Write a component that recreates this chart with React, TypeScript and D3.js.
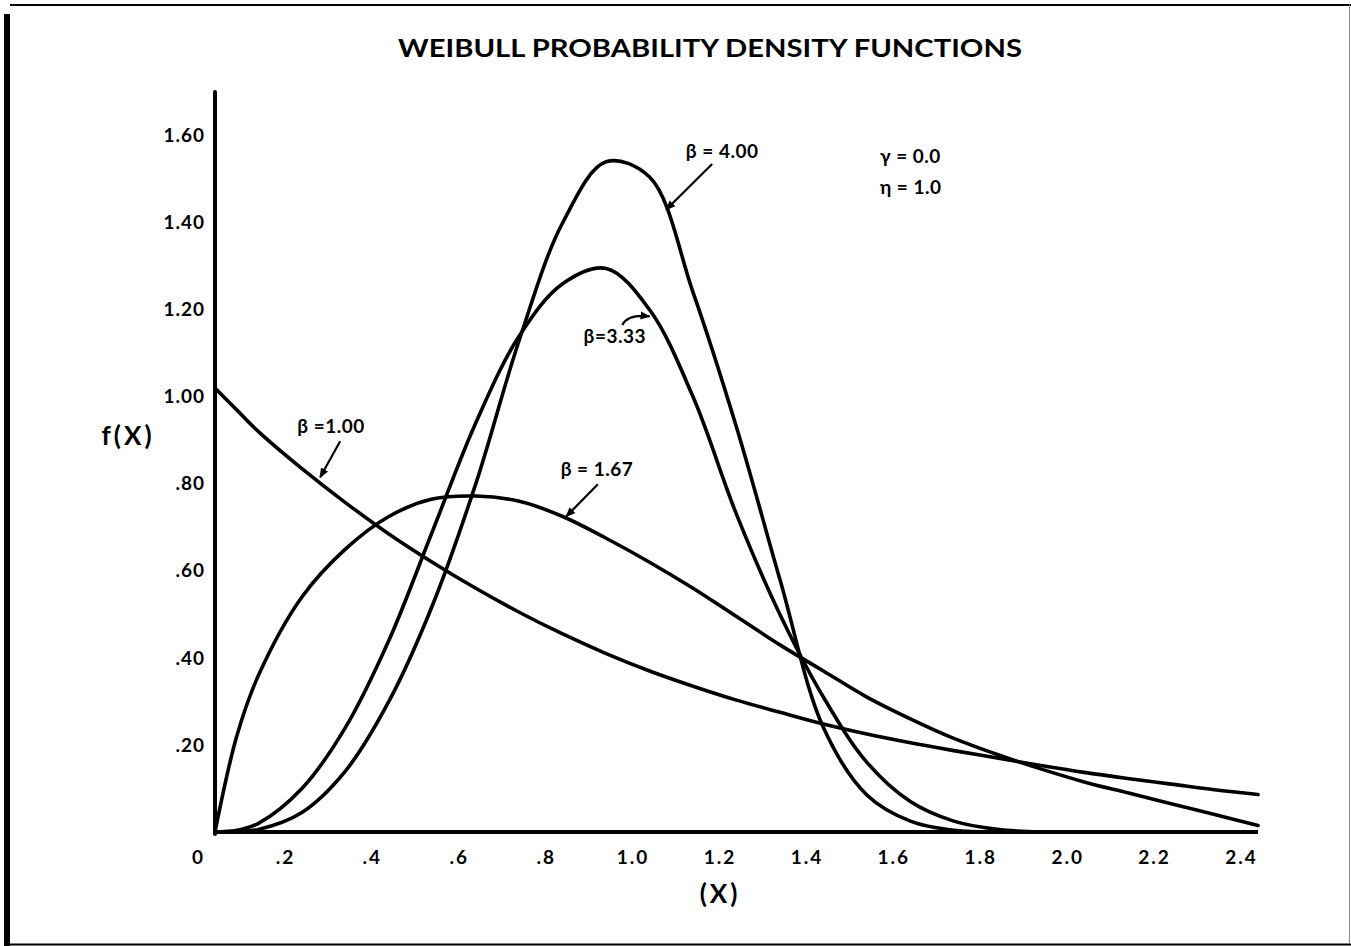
import React, { useEffect, useRef } from "react";
import * as d3 from "d3";

const width = 1351;
const height = 946;
const plot = { left: 215, right: 1258, top: 92, bottom: 832 };

// x positions the curves were read at
const xGrid = [0, 0.05, 0.1, 0.2, 0.3, 0.4, 0.5, 0.6, 0.7, 0.8, 0.9, 1.0, 1.1, 1.2, 1.3, 1.4, 1.5, 1.6, 1.7, 1.8, 1.9, 2.0, 2.1, 2.2, 2.3, 2.4];

// f(X) for each shape parameter (null = curve already on the axis)
const beta100 = [1.02, 0.97, 0.92, 0.835, 0.757, 0.685, 0.62, 0.56, 0.505, 0.455, 0.41, 0.37, 0.335, 0.303, 0.275, 0.248, 0.225, 0.205, 0.187, 0.17, 0.153, 0.137, 0.123, 0.11, 0.097, 0.086];
const beta167 = [0, 0.22, 0.36, 0.54, 0.65, 0.725, 0.765, 0.772, 0.76, 0.725, 0.675, 0.62, 0.56, 0.495, 0.43, 0.37, 0.31, 0.26, 0.215, 0.178, 0.145, 0.115, 0.09, 0.065, 0.04, 0.015];
const beta333 = [0, 0.004, 0.02, 0.1, 0.24, 0.44, 0.69, 0.94, 1.14, 1.26, 1.295, 1.2, 1.0, 0.73, 0.5, 0.31, 0.16, 0.07, 0.025, 0.006, 0, null, null, null, null, null];
const beta400 = [0, 0.001, 0.006, 0.045, 0.14, 0.3, 0.52, 0.8, 1.13, 1.4, 1.54, 1.505, 1.24, 0.93, 0.58, 0.24, 0.085, 0.025, 0.004, 0, null, null, null, null, null, null];

const seriesList = [beta100, beta167, beta333, beta400];

const xTicks = [0, 0.2, 0.4, 0.6, 0.8, 1.0, 1.2, 1.4, 1.6, 1.8, 2.0, 2.2, 2.4];
const xTickLabels = ["0", ".2", ".4", ".6", ".8", "1.0", "1.2", "1.4", "1.6", "1.8", "2.0", "2.2", "2.4"];
const yTicks = [0.2, 0.4, 0.6, 0.8, 1.0, 1.2, 1.4, 1.6];
const yTickLabels = [".20", ".40", ".60", ".80", "1.00", "1.20", "1.40", "1.60"];

// labels with arrows, in data units: text centre, arrow tail, arrow tip
const notes = [
  { text: "\u03B2 = 4.00", lx: 1.167, ly: 1.565, from: [1.144, 1.535], to: [1.038, 1.43] },
  { text: "\u03B2 =1.00", lx: 0.267, ly: 0.932, from: [0.288, 0.898], to: [0.242, 0.815] },
  { text: "\u03B2 = 1.67", lx: 0.879, ly: 0.833, from: [0.881, 0.799], to: [0.808, 0.725] },
];

const font = "Lato, 'DejaVu Sans', sans-serif";

const App = () => {
  const ref = useRef(null);

  useEffect(() => {
    const svg = d3.select(ref.current);
    svg.selectAll("*").remove();

    const x = d3.scaleLinear().domain([0, 2.4]).range([plot.left, plot.right]);
    const y = d3.scaleLinear().domain([0, 1.7]).range([plot.bottom, plot.top + 0.2]);

    svg.append("defs")
      .append("marker")
      .attr("id", "head")
      .attr("viewBox", "0 0 10 10")
      .attr("refX", 9)
      .attr("refY", 5)
      .attr("markerWidth", 10)
      .attr("markerHeight", 10)
      .attr("markerUnits", "userSpaceOnUse")
      .attr("orient", "auto")
      .append("path")
      .attr("d", "M0,1 L10,5 L0,9 Z")
      .attr("fill", "#000");

    svg.append("rect").attr("width", width).attr("height", height).attr("fill", "#fff");

    // page frame
    const frame = svg.append("g").attr("stroke", "#000").attr("fill", "none");
    frame.append("line").attr("x1", 10).attr("x2", width).attr("y1", 5).attr("y2", 5).attr("stroke-width", 2);
    frame.append("line").attr("x1", 7).attr("x2", 7).attr("y1", 14).attr("y2", 946).attr("stroke-width", 6);
    frame.append("line").attr("x1", 7).attr("x2", width).attr("y1", 944.5).attr("y2", 944.5).attr("stroke-width", 2);
    frame.append("line").attr("x1", 1349.5).attr("x2", 1349.5).attr("y1", 5).attr("y2", 944).attr("stroke-width", 1).attr("stroke", "#888");

    svg.append("text")
      .attr("x", 710)
      .attr("y", 57)
      .attr("text-anchor", "middle")
      .attr("font-family", font)
      .attr("font-size", 25)
      .attr("font-weight", 700)
      .attr("textLength", 624)
      .attr("lengthAdjust", "spacingAndGlyphs")
      .text("WEIBULL  PROBABILITY  DENSITY  FUNCTIONS");

    // curves
    const line = d3.line()
      .defined((d) => d[1] != null)
      .x((d) => x(d[0]))
      .y((d) => Math.min(y(d[1]), plot.bottom))
      .curve(d3.curveCatmullRom.alpha(0.5));

    svg.append("g")
      .attr("fill", "none")
      .attr("stroke", "#000")
      .attr("stroke-width", 3.6)
      .attr("stroke-linejoin", "round")
      .attr("stroke-linecap", "round")
      .selectAll("path")
      .data(seriesList)
      .join("path")
      .attr("d", (s) => line(xGrid.map((v, i) => [v, s[i]])));

    // axes
    const xAxis = d3.axisBottom(x)
      .tickValues(xTicks)
      .tickSize(0)
      .tickPadding(19)
      .tickFormat((d, i) => xTickLabels[i]);
    svg.append("g")
      .attr("transform", `translate(0,${plot.bottom})`)
      .call(xAxis)
      .call((g) => g.select(".domain").attr("stroke-width", 4).attr("d", `M${plot.left - 2},0H${plot.right}`))
      .call((g) => g.selectAll("text")
        .attr("dx", -17)
        .attr("font-family", font)
        .attr("font-size", 19)
        .attr("font-weight", 700)
        .attr("letter-spacing", 2)
        .attr("fill", "#000"));

    const yAxis = d3.axisLeft(y)
      .tickValues(yTicks)
      .tickSize(0)
      .tickPadding(10)
      .tickFormat((d, i) => yTickLabels[i]);
    svg.append("g")
      .attr("transform", `translate(${plot.left},0)`)
      .call(yAxis)
      .call((g) => g.select(".domain").attr("stroke-width", 4).attr("stroke-linecap", "round").attr("d", `M0,${plot.top}V${plot.bottom + 2}`))
      .call((g) => g.selectAll("text")
        .attr("font-family", font)
        .attr("font-size", 19)
        .attr("font-weight", 700)
        .attr("letter-spacing", 1)
        .attr("fill", "#000"));

    svg.append("text")
      .attr("x", 128)
      .attr("y", 445)
      .attr("text-anchor", "middle")
      .attr("font-family", font)
      .attr("font-size", 26)
      .attr("font-weight", 700)
      .attr("letter-spacing", 3)
      .text("f(X)");

    svg.append("text")
      .attr("x", 720)
      .attr("y", 903)
      .attr("text-anchor", "middle")
      .attr("font-family", font)
      .attr("font-size", 26)
      .attr("font-weight", 700)
      .attr("letter-spacing", 3)
      .text("(X)");

    // annotations
    const ann = svg.append("g")
      .attr("font-family", font)
      .attr("font-size", 19)
      .attr("font-weight", 700)
      .attr("letter-spacing", 0.5);
    notes.forEach((n) => {
      ann.append("text")
        .attr("x", x(n.lx))
        .attr("y", y(n.ly))
        .attr("dy", "0.35em")
        .attr("text-anchor", "middle")
        .text(n.text);
      ann.append("line")
        .attr("x1", x(n.from[0]))
        .attr("y1", y(n.from[1]))
        .attr("x2", x(n.to[0]))
        .attr("y2", y(n.to[1]))
        .attr("stroke", "#000")
        .attr("stroke-width", 2.2)
        .attr("marker-end", "url(#head)");
    });

    ann.append("text")
      .attr("x", x(0.92))
      .attr("y", y(1.14))
      .attr("dy", "0.35em")
      .attr("text-anchor", "middle")
      .text("\u03B2=3.33");
    ann.append("path")
      .attr("d", `M${x(0.937)},${y(1.165)} Q${x(0.95)},${y(1.19)} ${x(1.0)},${y(1.185)}`)
      .attr("fill", "none")
      .attr("stroke", "#000")
      .attr("stroke-width", 2.2)
      .attr("marker-end", "url(#head)");

    ann.append("text").attr("x", x(1.53)).attr("y", y(1.552)).attr("dy", "0.35em").text("\u03B3 = 0.0");
    ann.append("text").attr("x", x(1.53)).attr("y", y(1.482)).attr("dy", "0.35em").text("\u03B7 = 1.0");
  }, []);

  return (
    <svg
      ref={ref}
      width={width}
      height={height}
      style={{ position: "absolute", left: 0, top: 0, display: "block" }}
    />
  );
};

export default App;
